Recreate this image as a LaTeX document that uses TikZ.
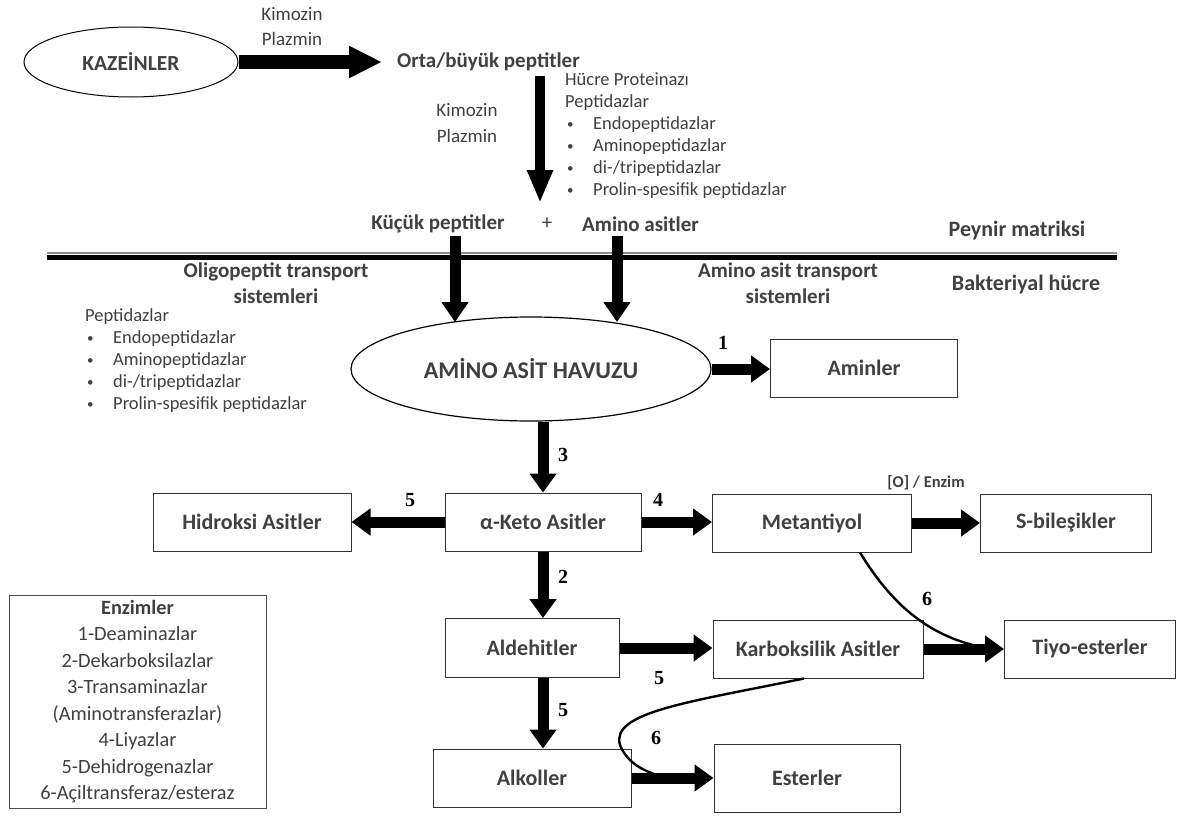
\documentclass[tikz,border=0pt]{standalone}
\usepackage{fontspec}
\setmainfont{Carlito}
\newfontfamily\numfont{Liberation Serif}
\usetikzlibrary{arrows.meta,shapes.geometric,calc}
\definecolor{txt}{HTML}{404040}
\newcommand{\bitem}{\hspace*{2pt}\makebox[26pt][l]{\raisebox{1pt}{\fontsize{13}{13}\selectfont•}}}
\begin{document}
\begin{tikzpicture}[x=1pt,y=-1pt,
  box/.style={draw=black!80,line width=1pt,minimum height=58pt,text=txt,font=\fontsize{22}{26}\selectfont\bfseries,inner sep=0pt},
  ell/.style={ellipse,draw=black,line width=1pt,inner sep=0pt,text=txt},
  fat/.style={line width=11pt,-{Triangle[length=19pt,width=26pt]}},
  num/.style={font=\numfont\fontsize{20}{22}\selectfont\bfseries,inner sep=0pt},
  lbl/.style={text=txt,font=\fontsize{19}{22}\selectfont,inner sep=0pt},
  blbl/.style={text=txt,font=\fontsize{21}{26}\selectfont\bfseries,inner sep=0pt},
  curve/.style={line width=2.4pt},
  bul/.style={text=txt,font=\fontsize{18.5}{22}\selectfont,inner sep=0pt,align=left}
]
\useasboundingbox (0,0) rectangle (1177,816);
\fill[white] (0,0) rectangle (1177,816);

% top part
\node[ell,minimum width=214pt,minimum height=70pt,font=\fontsize{21.5}{25}\selectfont\bfseries] (kaz) at (131,62) {KAZEİNLER};
\node[blbl,anchor=west] (orta) at (397,62) {Orta/büyük peptitler};
\node[lbl] (kim1) at (292,14) {Kimozin};
\node[lbl] (plz1) at (292,39) {Plazmin};
\draw[line width=14pt,-{Triangle[length=33pt,width=30pt]}] (kaz.east |- orta.west) -- ([xshift=-15pt]orta.west);

\coordinate (v1) at (540,76);
\coordinate (v2) at (540,203);
\draw[line width=10pt,-{Triangle[length=33pt,width=24pt]}] (v1) -- (v2);
\node[lbl] (kim2) at (467,110) {Kimozin};
\node[lbl] (plz2) at (467,136) {Plazmin};
\node[bul,anchor=north west] (hp) at (565,73) {Hücre Proteinazı\\Peptidazlar\\\bitem Endopeptidazlar\\\bitem Aminopeptidazlar\\\bitem di-/tripeptidazlar\\\bitem Prolin-spesifik peptidazlar};

\node[blbl] (kucuk) at (438,224) {Küçük peptitler};
\node[lbl,font=\fontsize{21}{22}\selectfont] (plus) at (547,224) {+};
\node[blbl,anchor=west] (aa) at (582,224) {Amino asitler};

% membrane
\draw[black!45,line width=2pt] (47,252.5) -- (1117,252.5);
\draw[black,line width=5pt] (47,257.5) -- (1117,257.5);
\node[blbl,font=\fontsize{22}{26}\selectfont\bfseries] (peynir) at (1017,231) {Peynir matriksi};
\node[blbl,font=\fontsize{22}{26}\selectfont\bfseries] (bakt) at (1026,285) {Bakteriyal hücre};
\node[blbl,align=center] (oligo) at (276,283) {Oligopeptit transport\\sistemleri};
\node[blbl,align=center] (aatr) at (788,283) {Amino asit transport\\sistemleri};

\node[bul,anchor=north west] (pl) at (85,308) {Peptidazlar\\\bitem Endopeptidazlar\\\bitem Aminopeptidazlar\\\bitem di-/tripeptidazlar\\\bitem Prolin-spesifik peptidazlar};

% pool
\node[ell,line width=1.2pt,minimum width=360pt,minimum height=104pt,font=\fontsize{24}{28}\selectfont\bfseries] (pool) at (531,369) {AMİNO ASİT HAVUZU};
\coordinate (t1) at (455,236);
\coordinate (t1e) at (455,322);
\coordinate (t2) at (617,236);
\coordinate (t2e) at (617,322);
\draw[line width=11pt,-{Triangle[length=20pt,width=26pt]}] (t1) -- (t1e);
\draw[line width=11pt,-{Triangle[length=20pt,width=26pt]}] (t2) -- (t2e);

\node[box,minimum width=187pt] (amin) at (864,368) {Aminler};
\draw[fat] (pool.east) -- (pool.east -| amin.west);
\node[num] (n1) at (723,343) {1};

% second row
\node[box,minimum width=198pt] (hid) at (252,522) {Hidroksi Asitler};
\node[box,minimum width=196pt] (aketo) at (543,522) {α-Keto Asitler};
\node[box,minimum width=199pt] (met) at (812,523) {Metantiyol};
\node[box,minimum width=171pt] (sb) at (1066,523) {S-bileşikler};
\draw[fat] (pool.south -| aketo.north) -- (aketo.north);
\node[num] (n3) at (563,455) {3};
\draw[fat] (aketo.west) -- (hid.east);
\node[num] (n5a) at (410,500) {5};
\draw[fat] (aketo.east) -- (aketo.east -| met.west);
\node[num] (n4) at (658,500) {4};
\draw[fat] (met.east) -- (met.east -| sb.west);
\node[text=txt,font=\fontsize{16.5}{20}\selectfont\bfseries,inner sep=0pt] (oenz) at (926,483) {[O] / Enzim};

% third row
\node[box,minimum width=174pt,minimum height=59pt] (ald) at (532,648) {Aldehitler};
\node[box,minimum width=210pt] (karb) at (818,649) {Karboksilik Asitler};
\node[box,minimum width=171pt] (tiyo) at (1090,649) {Tiyo-esterler};
\draw[fat] (aketo.south) -- (aketo.south |- ald.north);
\node[num] (n2) at (563,577) {2};
\draw[fat] (ald.east) -- (ald.east -| karb.west);
\node[num] (n5b) at (659,678) {5};
\draw[fat] (karb.east) -- (tiyo.west);

% fourth row
\node[box,minimum width=198pt] (alk) at (532,778) {Alkoller};
\node[box,minimum width=186pt,minimum height=68pt] (est) at (807,778) {Esterler};
\draw[fat] (ald.south -| aketo.south) -- (aketo.south |- alk.north);
\node[num] (n5c) at (563,710) {5};
\draw[fat] (alk.east) -- (est.west);

% curves
\draw[curve] ([xshift=48pt]met.south) .. controls (895,610) and (935,640) .. ([xshift=-12pt]tiyo.west);
\node[num] (n6a) at (927,599) {6};
\draw[curve] ([xshift=-14pt]karb.south) .. controls (690,702) and (610,712) .. (620,745) .. controls (627,763) and (645,773) .. ([xshift=-45pt]est.west);
\node[num] (n6b) at (656,738) {6};

% legend
\node[draw=black!70,line width=1pt,minimum width=257pt,minimum height=213pt,inner sep=0pt,align=center,text=txt,font=\fontsize{20.3}{26.5}\selectfont] (enz) at (137.5,701.5) {\textbf{Enzimler}\\1-Deaminazlar\\2-Dekarboksilazlar\\3-Transaminazlar\\(Aminotransferazlar)\\4-Liyazlar\\5-Dehidrogenazlar\\6-Açiltransferaz/esteraz};
\end{tikzpicture}
\end{document}
